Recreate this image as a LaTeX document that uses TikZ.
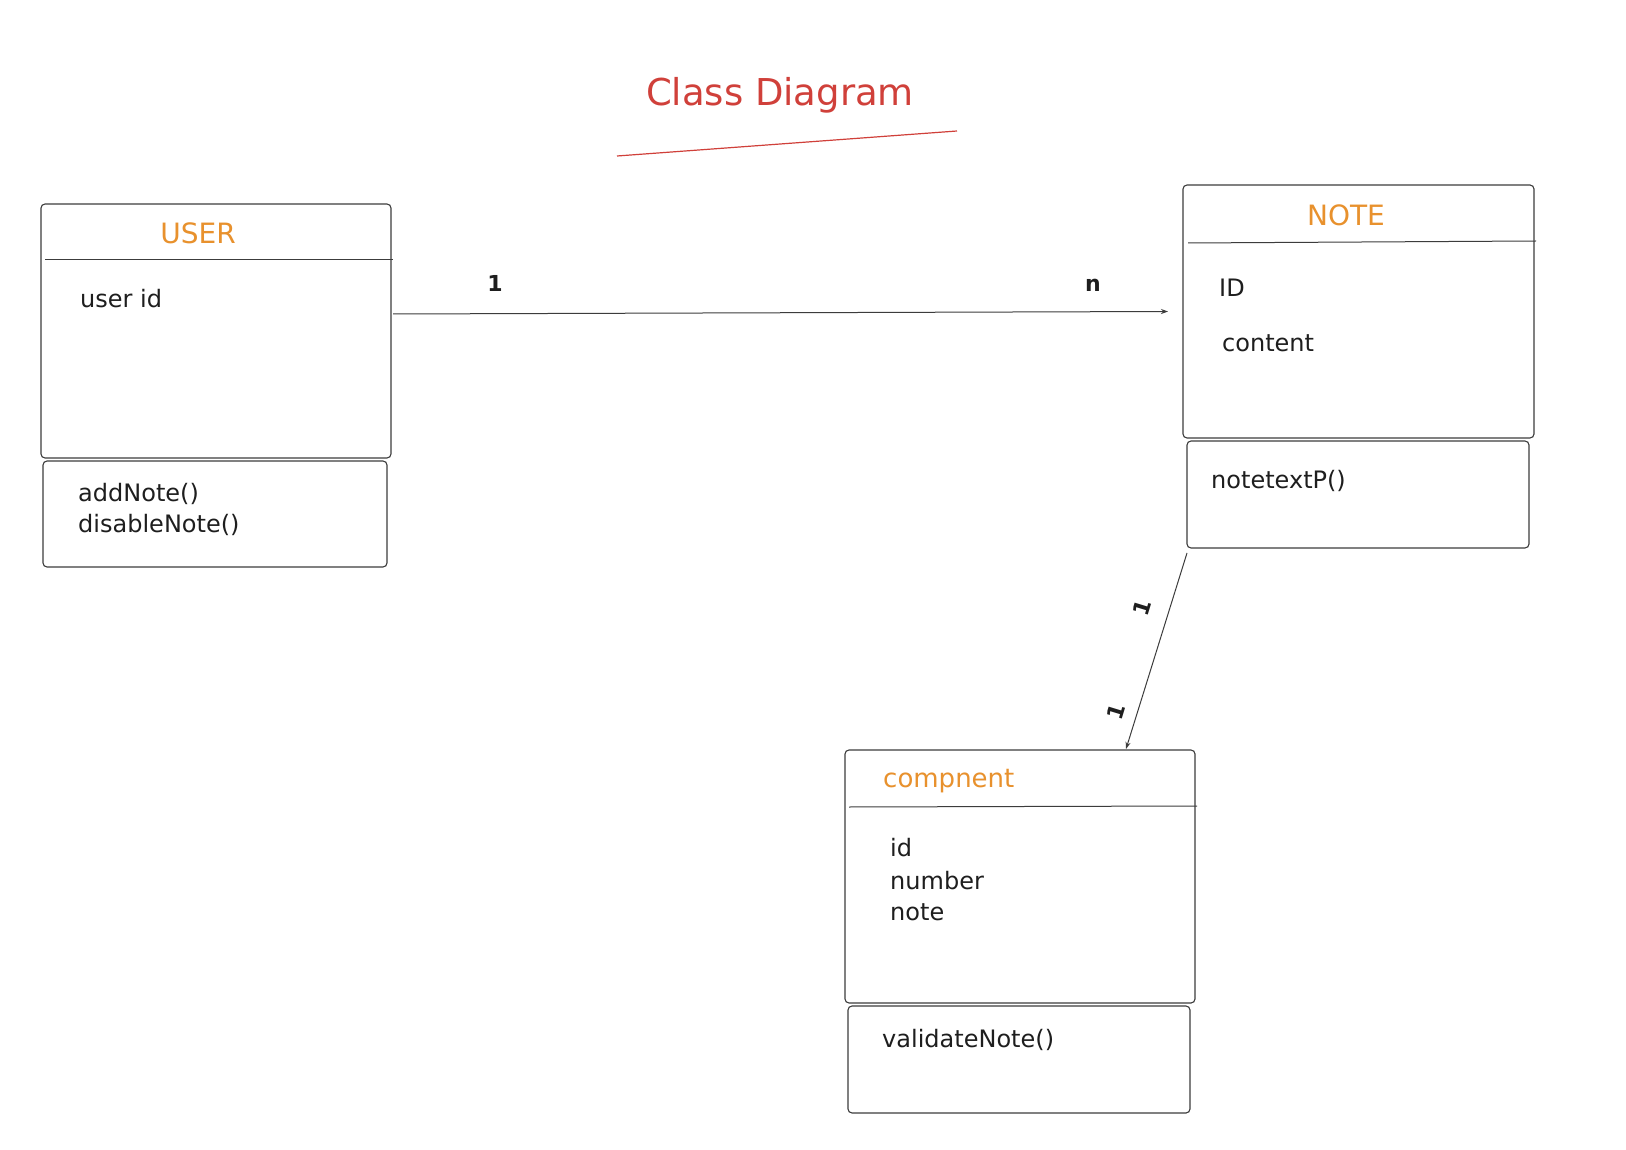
\documentclass[tikz,border=0pt]{standalone}
\usepackage{fontspec}
\setmainfont{DejaVu Sans}
\usetikzlibrary{arrows.meta}
\definecolor{ink}{RGB}{30,30,30}
\definecolor{edge}{RGB}{60,60,60}
\definecolor{hdr}{RGB}{232,145,45}
\definecolor{ttl}{RGB}{208,64,58}
\tikzset{
  box/.style={draw=edge, line width=1.1pt, rounded corners=4pt, inner sep=0pt, outer sep=0pt},
  divider/.style={draw=edge, line width=1pt},
  txt/.style={anchor=base west, inner sep=0pt, text=ink, font=\fontsize{24}{28}\selectfont},
  head/.style={anchor=base, inner sep=0pt, text=hdr, font=\fontsize{28}{32}\selectfont},
  mult/.style={inner sep=0pt, text=ink, font=\fontsize{22}{26}\selectfont\bfseries},
  assoc/.style={draw=edge, line width=1pt, -{Stealth[length=7pt,width=5pt]}}
}
\begin{document}
\begin{tikzpicture}[x=1pt,y=-1pt]
\useasboundingbox[fill=white] (0,0) rectangle (1626,1150);
% title
\node[anchor=base, inner sep=0pt, text=ttl, font=\fontsize{37}{40}\selectfont] (title) at (780,106) {Class Diagram};
\coordinate (ulA) at (617,156);
\coordinate (ulB) at (957,131);
\draw[ttl, line width=1.2pt] (ulA) -- (ulB);
% USER
\node[box, minimum width=350pt, minimum height=254pt] (user) at (216,331) {};
\node[box, minimum width=344pt, minimum height=106pt] (userm) at (215,514) {};
\draw[divider] (45,260) -- (393,260);
\node[head] (userh) at (198,244) {USER};
\node[txt] (userid) at (80,308) {user id};
\node[txt] (addn) at (78,501) {addNote()};
\node[txt] (disn) at (78,532) {disableNote()};
% NOTE
\node[box, minimum width=351pt, minimum height=253pt] (note) at (1358.5,311.5) {};
\node[box, minimum width=342pt, minimum height=107pt] (notem) at (1358,494.5) {};
\draw[divider] (1188,243) -- (1536,241);
\node[head] (noteh) at (1346,226) {NOTE};
\node[txt] (nid) at (1219,297) {ID};
\node[txt] (ncont) at (1222,352) {content};
\node[txt] (ntp) at (1211,488) {notetextP()};
% compnent
\node[box, minimum width=350pt, minimum height=253pt] (comp) at (1020,876.5) {};
\node[box, minimum width=342pt, minimum height=107pt] (compm) at (1019,1059.5) {};
\draw[divider] (849,807) -- (1197,806);
\node[head, anchor=base west, font=\fontsize{26}{30}\selectfont] (comph) at (883,787) {compnent};
\node[txt] (cid) at (890,856) {id};
\node[txt] (cnum) at (890,889) {number};
\node[txt] (cnote) at (890,920) {note};
\node[txt] (cval) at (882,1047) {validateNote()};
% associations
\draw[assoc] ([shift={(2,-17)}]user.east) -- ([xshift=-15pt]note.west);
\node[mult, anchor=base] (m1) at (495,292) {1};
\node[mult, anchor=base] (mn) at (1093,292) {n};
\draw[assoc] ([shift={(0,5)}]notem.south west) -- ([shift={(106,-1)}]comp.north);
\node[mult, rotate=73] (m2) at (1142,608) {1};
\node[mult, rotate=73] (m3) at (1116,712) {1};
\end{tikzpicture}
\end{document}
